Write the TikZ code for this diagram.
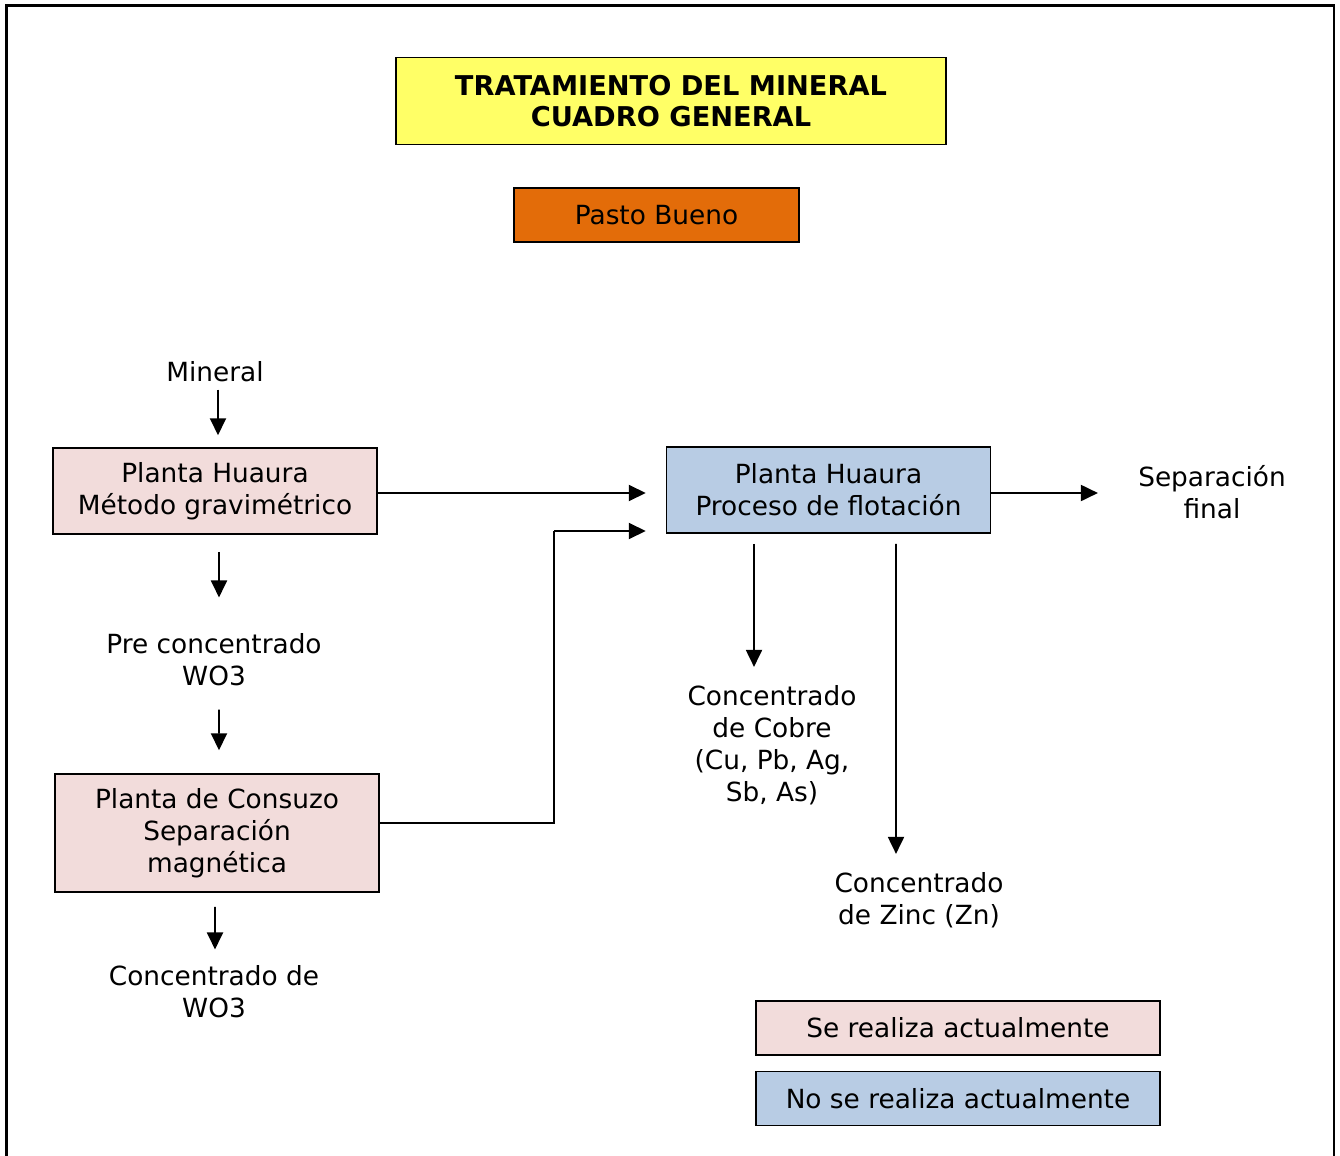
\documentclass[tikz,border=0pt]{standalone}
\usepackage{fontspec}
\setmainfont{DejaVu Sans}
\usepackage{tikz}
\usetikzlibrary{calc, arrows.meta, positioning}

\definecolor{amarillo}{HTML}{FFFF66}
\definecolor{naranja}{HTML}{E36C09}
\definecolor{rosa}{HTML}{F2DCDB}
\definecolor{celeste}{HTML}{B8CCE4}

\begin{document}
\begin{tikzpicture}[
        every node/.style={font=\fontsize{15}{18.2}\selectfont, align=center, inner sep=0pt},
        caja/.style={draw, line width=0.85pt, minimum width=6.48cm, minimum height=1.72cm},
        hecho/.style={caja, fill=rosa},
        pendiente/.style={caja, fill=celeste},
        flecha/.style={line width=1.1pt, -{Triangle[length=0.34cm, width=0.32cm]}}
    ]
            \useasboundingbox (0, 0) rectangle (26.8, -23.1);
            \draw[line width=1.3pt] (0.13, -0.11) rectangle (26.68, -23.4);

            \node[draw, line width=0.85pt, fill=amarillo, minimum width=11cm, minimum height=1.74cm,
                font=\fontsize{15.5}{18}\selectfont\bfseries] (titulo) at (13.42, -2.02) {TRATAMIENTO DEL MINERAL\\CUADRO GENERAL};
            \node[draw, line width=0.85pt, fill=naranja, minimum width=5.7cm, minimum height=1.08cm] (pasto) at (13.13, -4.3) {Pasto Bueno};

            \node (mineral) at (4.3, -7.44) {Mineral};
            \node[hecho] (huaura) at (4.3, -9.82) {Planta Huaura\\Método gravimétrico};
            \node (pre) at (4.28, -13.2) {Pre concentrado\\WO3};
            \node[hecho, minimum height=2.36cm] (consuzo) at (4.34, -16.66) {Planta de Consuzo\\Separación\\magnética};
            \node (wo3) at (4.28, -19.84) {Concentrado de\\WO3};

            \node[pendiente] (flotacion) at (16.57, -9.8) {Planta Huaura\\Proceso de flotación};
            \node (final) at (24.24, -9.84) {Separación\\final};
            \node (cobre) at (15.44, -14.9) {Concentrado\\de Cobre\\(Cu, Pb, Ag,\\Sb, As)};
            \node (zinc) at (18.38, -18.0) {Concentrado\\de Zinc (Zn)};

            \node[hecho, minimum width=8.08cm, minimum height=1.08cm] (ley1) at (19.16, -20.56) {Se realiza actualmente};
            \node[pendiente, minimum width=8.08cm, minimum height=1.08cm, below=0.3cm of ley1] (ley2) {No se realiza actualmente};

            % flujo izquierdo
            \draw[flecha] ($(mineral.south)+(0.06, -0.14)$) -- ($(huaura.north)+(0.06, 0.24)$);
            \draw[flecha] ($(huaura.south)+(0.08, -0.34)$) -- ($(pre.north)+(0.1, 0.72)$);
            \draw[flecha] ($(pre.south)+(0.1, -0.46)$) -- ($(consuzo.north)+(0.04, 0.46)$);
            \draw[flecha] ($(consuzo.south)+(-0.04, -0.28)$) -- ($(wo3.north)+(0.02, 0.32)$);

            % hacia flotacion
            \draw[flecha] ($(huaura.east)+(0, -0.04)$) -- ($(flotacion.west)+(-0.4, -0.06)$);
            \draw[line width=0.8pt] ($(consuzo.east)+(0, 0.2)$) -| (11.08, -10.62);
            \draw[flecha] (11.08, -10.62) -- ($(flotacion.west)+(-0.4, -0.82)$);

            % salidas de flotacion
            \draw[flecha] ($(flotacion.east)+(0, -0.06)$) -- ($(final.west)+(-0.8, -0.02)$);
            \draw[flecha] ($(flotacion.south)+(-1.49, -0.2)$) -- ($(cobre.north)+(-0.36, 0.36)$);
            \draw[flecha] ($(flotacion.south)+(1.35, -0.2)$) -- ($(zinc.north)+(-0.46, 0.36)$);
        \end{tikzpicture}
\end{document}
